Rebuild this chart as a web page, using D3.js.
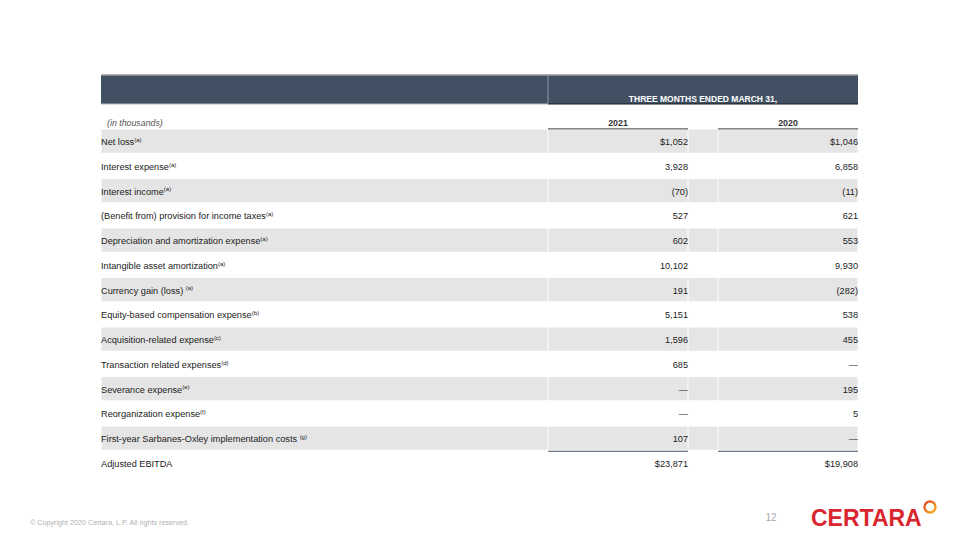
<!DOCTYPE html>
<meta charset="utf-8">
<html>
<script src="https://d3js.org/d3.v7.min.js"></script>
<style>
    body { margin: 0; background: #fff; }
    svg { display: block; font-family: "Liberation Sans", Arial, sans-serif; }
</style>
<body>
<div id="my_dataviz"></div>
<script>

    // table content
    var labels = [
        "Net loss",
        "Interest expense",
        "Interest income",
        "(Benefit from) provision for income taxes",
        "Depreciation and amortization expense",
        "Intangible asset amortization",
        "Currency gain (loss) ",
        "Equity-based compensation expense",
        "Acquisition-related expense",
        "Transaction related expenses",
        "Severance expense",
        "Reorganization expense",
        "First-year Sarbanes-Oxley implementation costs ",
        "Adjusted EBITDA"
    ];
    var notes = ["(a)", "(a)", "(a)", "(a)", "(a)", "(a)", "(a)", "(b)", "(c)", "(d)", "(e)", "(f)", "(g)", ""];
    var years = ["2021", "2020"];
    var values2021 = [1052, 3928, -70, 527, 602, 10102, 191, 5151, 1596, 685, null, null, 107, 23871];
    var values2020 = [1046, 6858, -11, 621, 553, 9930, -282, 538, 455, null, 195, 5, null, 19908];
    var dollarRows = ["Net loss", "Adjusted EBITDA"];

    var width = 960, height = 540;
    var svg = d3.select("#my_dataviz").append("svg")
        .attr("width", width)
        .attr("height", height);

    var fmt = d3.format(",");
    function cell(v, label) {
        if (v === null) return "\u2014";
        var s = fmt(Math.abs(v));
        if (dollarRows.indexOf(label) >= 0) s = "$" + s;
        return v < 0 ? "(" + s + ")" : s;
    }

    // columns: label, 2021, 2020
    var x = { left: 101, split: 548, c1: 688, c2: 718, right: 858 };

    var y = d3.scaleBand()
        .domain(labels)
        .range([129.5, 129.5 + labels.length * 24.75])
        .paddingInner(0);

    // header band
    svg.append("rect").attr("x", x.left).attr("y", 75).attr("width", x.right - x.left).attr("height", 29)
        .attr("fill", "#415163");
    svg.append("line").attr("x1", x.left).attr("x2", x.right).attr("y1", 75).attr("y2", 75)
        .attr("stroke", "#9a9a9a").attr("stroke-width", 1.5);
    svg.append("line").attr("x1", x.split).attr("x2", x.split).attr("y1", 75).attr("y2", 104)
        .attr("stroke", "#8a99a8").attr("stroke-width", 1);
    svg.append("line").attr("x1", x.left).attr("x2", x.split).attr("y1", 104).attr("y2", 104)
        .attr("stroke", "#b5b5b5").attr("stroke-width", 1.2);
    svg.append("line").attr("x1", x.split).attr("x2", x.right).attr("y1", 104).attr("y2", 104)
        .attr("stroke", "#1a1a1a").attr("stroke-width", 1.2);
    svg.append("text").attr("x", (x.split + x.right) / 2).attr("y", 101.5)
        .attr("text-anchor", "middle").attr("fill", "#fff")
        .style("font-size", "8.5px").style("font-weight", "bold")
        .text("THREE MONTHS ENDED MARCH 31,");

    // sub header
    svg.append("text").attr("x", 107).attr("y", 126)
        .attr("fill", "#555").style("font-size", "8.8px").style("font-style", "italic")
        .text("(in thousands)");
    var yearCols = [[x.split, x.c1], [x.c2, x.right]];
    yearCols.forEach(function (c, i) {
        svg.append("text").attr("x", (c[0] + c[1]) / 2).attr("y", 126)
            .attr("text-anchor", "middle").attr("fill", "#333")
            .style("font-size", "8.8px").style("font-weight", "bold").text(years[i]);
        svg.append("line").attr("x1", c[0]).attr("x2", c[1]).attr("y1", 129).attr("y2", 129)
            .attr("stroke", "#111").attr("stroke-width", 1.2);
    });

    // rows
    var rows = svg.selectAll("g.row").data(labels).enter().append("g")
        .attr("class", "row")
        .attr("transform", function (d) { return "translate(0," + y(d) + ")"; });

    rows.filter(function (d, i) { return i % 2 === 0; }).each(function () {
        var g = d3.select(this);
        [[x.left, x.split], [x.split, x.c1], [x.c1, x.c2], [x.c2, x.right]].forEach(function (c) {
            g.append("rect").attr("x", c[0] + 0.5).attr("width", c[1] - c[0] - 1)
                .attr("y", 0).attr("height", y.bandwidth() - 1.5)
                .attr("fill", "#e5e5e5");
        });
    });

    var lab = rows.append("text").attr("x", x.left).attr("y", 15.5)
        .attr("fill", "#222").style("font-size", "9.2px");
    lab.append("tspan").text(function (d) { return d; });
    lab.append("tspan").attr("dy", -3.2).style("font-size", "6px")
        .text(function (d, i) { return notes[i]; });

    rows.append("text").attr("x", x.c1).attr("y", 15.5).attr("text-anchor", "end")
        .attr("fill", "#222").style("font-size", "9.2px")
        .text(function (d, i) { return cell(values2021[i], d); });
    rows.append("text").attr("x", x.right).attr("y", 15.5).attr("text-anchor", "end")
        .attr("fill", "#222").style("font-size", "9.2px")
        .text(function (d, i) { return cell(values2020[i], d); });

    // total rule above Adjusted EBITDA
    var totalY = y(labels[labels.length - 1]);
    yearCols.forEach(function (c) {
        svg.append("line").attr("x1", c[0]).attr("x2", c[1]).attr("y1", totalY).attr("y2", totalY)
            .attr("stroke", "#415163").attr("stroke-width", 1.2);
    });

    // footer
    svg.append("text").attr("x", 30).attr("y", 525).attr("fill", "#b0b0b0")
        .style("font-size", "7.2px").text("\u00a9 Copyright 2020 Certara, L.P.  All rights reserved.");
    svg.append("text").attr("x", 771).attr("y", 521).attr("text-anchor", "middle").attr("fill", "#a8a8a8")
        .style("font-size", "10px").text("12");

    // logo
    svg.append("text").attr("x", 811).attr("y", 526).attr("fill", "#d9262e")
        .style("font-size", "23px").style("font-weight", "bold")
        .text("CERTARA");
    var grad = svg.append("defs").append("linearGradient").attr("id", "ring")
        .attr("x1", "0").attr("y1", "0").attr("x2", "1").attr("y2", "1");
    grad.append("stop").attr("offset", "0").attr("stop-color", "#e8452c");
    grad.append("stop").attr("offset", "1").attr("stop-color", "#f7b21b");
    svg.append("circle").attr("cx", 930).attr("cy", 507).attr("r", 5.5)
        .attr("fill", "none").attr("stroke", "url(#ring)").attr("stroke-width", 2.4);
</script>
</body>
</html>
